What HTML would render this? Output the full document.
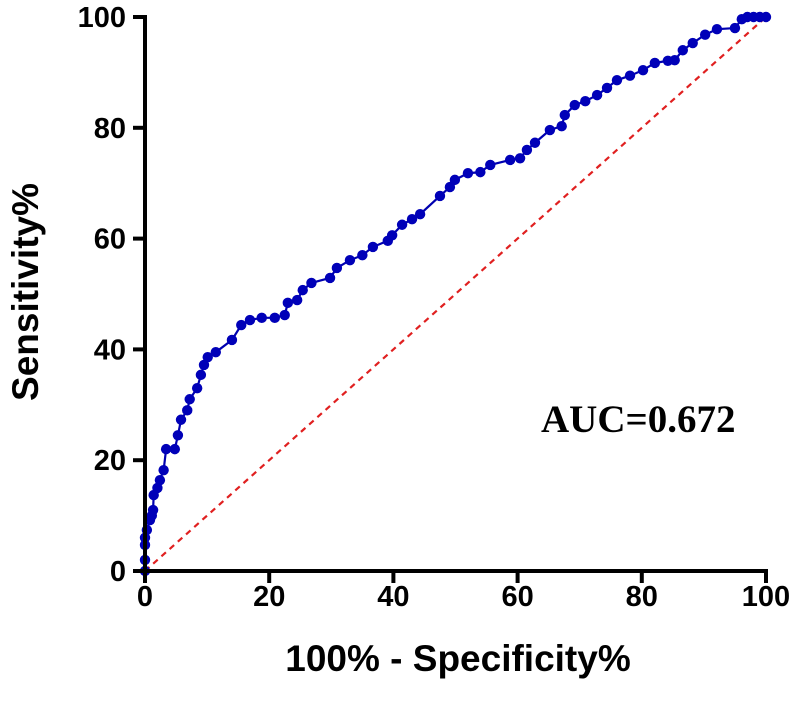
<!DOCTYPE html>
<html><head><meta charset="utf-8"><style>
body{margin:0;background:#fff}
svg text{font-family:"Liberation Sans",sans-serif;font-weight:bold}
</style></head><body>
<svg width="800" height="708" xmlns="http://www.w3.org/2000/svg">
<g id="plot"></g>
</svg>
<script>
const fpr=[0,0,0,0,0.3,0.8,1.1,1.3,1.4,2,2.4,3,3.4,4.8,5.3,5.8,6.8,7.2,8.4,9,9.5,10.1,11.4,14,15.5,16.9,18.8,20.9,22.5,23,24.5,25.4,26.8,29.8,30.9,33,35,36.7,39.1,39.8,41.4,43,44.3,47.5,49.1,49.9,52,54,55.6,58.8,60.4,61.5,62.8,65.2,67.1,67.6,69.2,70.9,72.8,74.4,76,78.1,80.2,82.1,84.2,85.3,86.6,88.2,90.2,92.1,95,96.1,97,98,99,100];
const tpr=[0,2,4.7,6,7.4,9.2,10,11,13.7,15,16.4,18.2,22,22,24.5,27.3,29,31,33,35.4,37.2,38.6,39.5,41.7,44.4,45.3,45.7,45.7,46.2,48.4,48.9,50.7,52,52.9,54.7,56.1,57,58.5,59.6,60.6,62.5,63.5,64.4,67.7,69.3,70.6,71.8,72,73.3,74.2,74.5,76,77.3,79.6,80.3,82.3,84.1,84.8,85.9,87.2,88.6,89.4,90.4,91.7,92.1,92.2,94,95.3,96.8,97.8,98,99.6,100,100,100,100];
const ticks=[0,20,40,60,80,100];
const sx=v=>145+v*6.21, sy=v=>571-v*5.54;
const g=document.getElementById('plot');const NS='http://www.w3.org/2000/svg';
function el(t,a,txt){const e=document.createElementNS(NS,t);for(const k in a)e.setAttribute(k,a[k]);if(txt!==undefined)e.textContent=txt;g.appendChild(e);return e;}
let e=el('line',{x1:sx(0),y1:sy(0),x2:sx(100),y2:sy(100),stroke:'#e02020','stroke-width':2.2,'stroke-dasharray':'6,5'});

e=el('polyline',{points:fpr.map((x,i)=>sx(x)+','+sy(tpr[i])).join(' '),fill:'none',stroke:'#0000b0','stroke-width':2.2});

fpr.forEach((x,i)=>{const c=el('circle',{cx:sx(x),cy:sy(tpr[i]),r:5.2,fill:'#0000b8'});

});
e=el('line',{x1:145,y1:sy(100)-2,x2:145,y2:573,stroke:'#000','stroke-width':4});

e=el('line',{x1:143,y1:571,x2:sx(100)+2,y2:571,stroke:'#000','stroke-width':4});

ticks.forEach(t=>{
 let l=el('line',{x1:133,y1:sy(t),x2:145,y2:sy(t),stroke:'#000','stroke-width':4});
 
 
 let tx=el('text',{x:126,y:sy(t)+10,'text-anchor':'end','font-size':29},t);
 
 
 l=el('line',{x1:sx(t),y1:571,x2:sx(t),y2:583,stroke:'#000','stroke-width':4});
 
 
 tx=el('text',{x:sx(t),y:606,'text-anchor':'middle','font-size':29},t);
 
 
});
e=el('text',{x:458,y:671,'text-anchor':'middle','font-size':37},'100% - Specificity%');

e=el('text',{x:0,y:0,'text-anchor':'middle','font-size':37,transform:'translate(38,292) rotate(-90)'},'Sensitivity%');

e=el('text',{x:541,y:432,'font-size':39,style:'font-family:"Liberation Serif",serif'},'AUC=0.672');

</script>
</body></html>
